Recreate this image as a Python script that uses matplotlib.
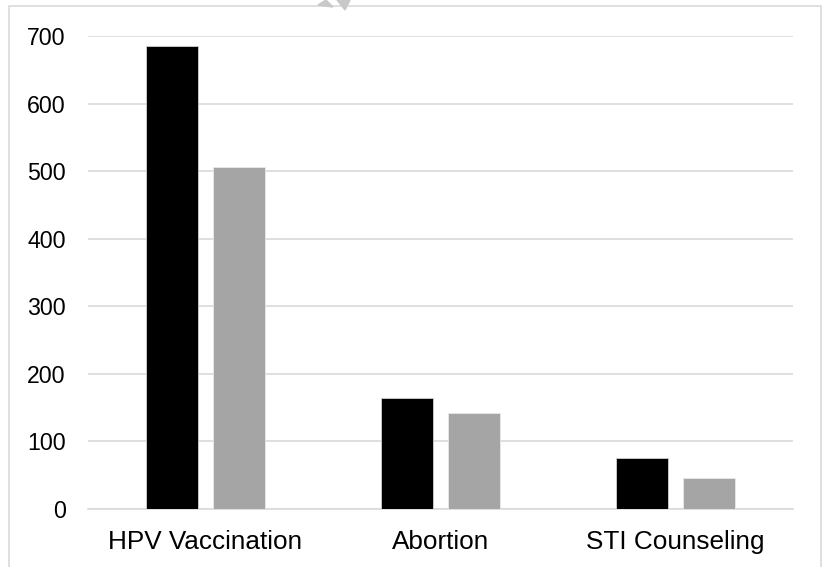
import matplotlib
matplotlib.use("Agg")
import matplotlib.pyplot as plt
import numpy as np
from matplotlib.patches import Rectangle, Polygon

categories = ["HPV Vaccination", "Abortion", "STI Counseling"]
series_a = [685, 164, 76]
series_b = [506, 142, 46]
yticks = [0, 100, 200, 300, 400, 500, 600, 700]

plt.rcParams['font.family'] = ['Liberation Sans', 'DejaVu Sans']

fig = plt.figure(figsize=(8.23, 5.67), dpi=100)
ax = fig.add_axes([0.1069, 0.1023, 0.8567, 0.8342])

x = np.arange(len(categories))
w = 0.221
off = 0.1426
ax.bar(x - off, series_a, width=w, color='#000000', edgecolor='#d0d0d0', linewidth=0.6, zorder=3)
ax.bar(x + off, series_b, width=w, color='#a5a5a5', edgecolor='#e8e8e8', linewidth=0.6, zorder=3)

ax.set_xlim(-0.5, 2.5)
ax.set_ylim(0, 700)
ax.set_yticks(yticks)
ax.set_xticks(x)
ax.set_xticklabels(categories)
ax.tick_params(axis='both', length=0, colors='#000000')
ax.tick_params(axis='y', pad=16, labelsize=16.7)
ax.tick_params(axis='x', pad=15, labelsize=18.8)
ax.grid(axis='y', color='#d9d9d9', linewidth=1.2, zorder=0)
for s in ['top', 'right', 'left']:
    ax.spines[s].set_visible(False)
ax.spines['bottom'].set_color('#d9d9d9')
ax.spines['bottom'].set_linewidth(1.2)

# outer chart frame
fig.patches.append(Rectangle((9 / 823, -0.05), (821 - 9) / 823, 1 - 6 / 567 + 0.05,
                             transform=fig.transFigure, fill=False,
                             edgecolor='#d9d9d9', linewidth=1.2))
# small grey marks at the top edge
fig.patches.append(Polygon([[318 / 823, 1 - 5 / 567], [326 / 823, 1.0], [333 / 823, 1 - 7 / 567]],
                           closed=True, transform=fig.transFigure, color='#c8c8c8'))
fig.patches.append(Polygon([[337 / 823, 1.0], [350 / 823, 1.0], [345 / 823, 1 - 10 / 567]],
                           closed=True, transform=fig.transFigure, color='#c8c8c8'))

fig.savefig("out.png", dpi=100, facecolor='white')
